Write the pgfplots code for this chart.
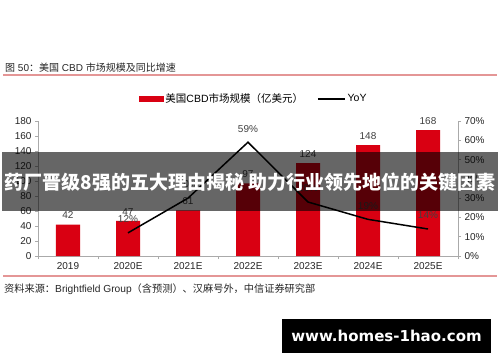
\documentclass[border=0pt]{standalone}
\usepackage{fontspec}
\setmainfont{Liberation Sans}
\newfontfamily\cjk{Noto Sans CJK SC}
\newfontfamily\wm{DejaVu Sans}
\usepackage{pgfplots}
\pgfplotsset{compat=1.18}
\definecolor{barred}{RGB}{217,0,18}
\definecolor{pinkline}{RGB}{228,150,150}
\definecolor{axgray}{RGB}{170,170,170}
\definecolor{lblgray}{RGB}{64,64,64}
\begin{document}
\begin{tikzpicture}[x=1pt,y=1pt]
\useasboundingbox (0,0) rectangle (500,362);
\fill[white] (0,0) rectangle (500,362);
\node[anchor=west, inner sep=0pt, font=\fontsize{10}{12}\selectfont, text=black!85] at (5,294) {{\cjk 图} 50{\cjk ：美国} CBD {\cjk 市场规模及同比增速}};
\draw[pinkline, line width=1.2pt] (3,287) -- (497,287);

\begin{axis}[
  at={(38pt,106pt)}, anchor=south west,
  scale only axis, width=420pt, height=135pt,
  xmin=-0.5, xmax=6.5, ymin=0, ymax=180,
  ytick={0,20,...,180},
  xtick={-0.5,0.5,...,6.5},
  x tick label as interval,
  xticklabels={2019,2020E,2021E,2022E,2023E,2024E,2025E},
  axis x line*=bottom, axis y line*=left,
  axis line style={axgray, line width=0.8pt},
  tick style={axgray, line width=0.8pt},
  major tick length=3pt,
  tick align=outside,
  tick label style={font=\fontsize{10}{12}\selectfont, text=black!85},
  /pgf/number format/assume math mode=true,
  clip=false,
]
\addplot[ybar, bar width=24pt, fill=barred, draw=none,
  nodes near coords, nodes near coords style={font=\fontsize{10}{12}\selectfont, text=lblgray, yshift=2pt}]
  coordinates {(0,42) (1,47) (2,61) (3,97) (4,124) (5,148) (6,168)};
\end{axis}

\begin{axis}[
  at={(38pt,106pt)}, anchor=south west,
  scale only axis, width=420pt, height=135pt,
  xmin=-0.5, xmax=6.5, ymin=0, ymax=70,
  ytick={0,10,...,70},
  yticklabel={\pgfmathprintnumber{\tick}\%},
  axis y line*=right, axis x line=none,
  axis line style={axgray, line width=0.8pt},
  tick style={axgray, line width=0.8pt},
  major tick length=3pt,
  tick align=outside,
  tick label style={font=\fontsize{10}{12}\selectfont, text=black!85},
  /pgf/number format/assume math mode=true,
  clip=false,
  legend style={at={(0.233,1.163)}, anchor=west, draw=none, fill=none,
    font=\fontsize{10.5}{12}\selectfont, legend columns=2,
    /tikz/every even column/.append style={column sep=12pt}},
  legend cell align=left,
]
\addlegendimage{legend image code/.code={\fill[barred] (0pt,-2.5pt) rectangle (24pt,2.5pt);}}
\addlegendentry{{\cjk 美国}CBD{\cjk 市场规模（亿美元）}}
\addplot[black, line width=1.5pt, mark=none,
  legend image code/.code={\draw[black,line width=1.5pt] (0pt,0pt) -- (27pt,0pt);},
  nodes near coords={\pgfmathprintnumber{\pgfplotspointmeta}\%},
  nodes near coords style={font=\fontsize{10}{12}\selectfont, text=lblgray, yshift=6pt}]
  coordinates {(1,12) (2,30) (3,59) (4,28) (5,19) (6,14)};
\addlegendentry{YoY}
\end{axis}

\fill[black, opacity=0.6] (2,151) rectangle (498,210.5);
\node[text=white, font=\cjk\bfseries\fontsize{19}{22}\selectfont] at (250,180) {药厂晋级8强的五大理由揭秘 助力行业领先地位的关键因素};

\draw[pinkline, line width=1.2pt] (3,86) -- (497,86);
\node[anchor=west, inner sep=0pt, font=\fontsize{10.2}{12}\selectfont, text=black!85] at (4,73) {{\cjk 资料来源：}Brightfield Group{\cjk （含预测）、汉麻号外，中信证券研究部}};

\fill[black] (282,9) rectangle (491,43);
\node[text=white, font=\wm\bfseries\fontsize{15}{18}\selectfont] at (386.5,26) {www.homes-1hao.com};
\end{tikzpicture}
\end{document}
